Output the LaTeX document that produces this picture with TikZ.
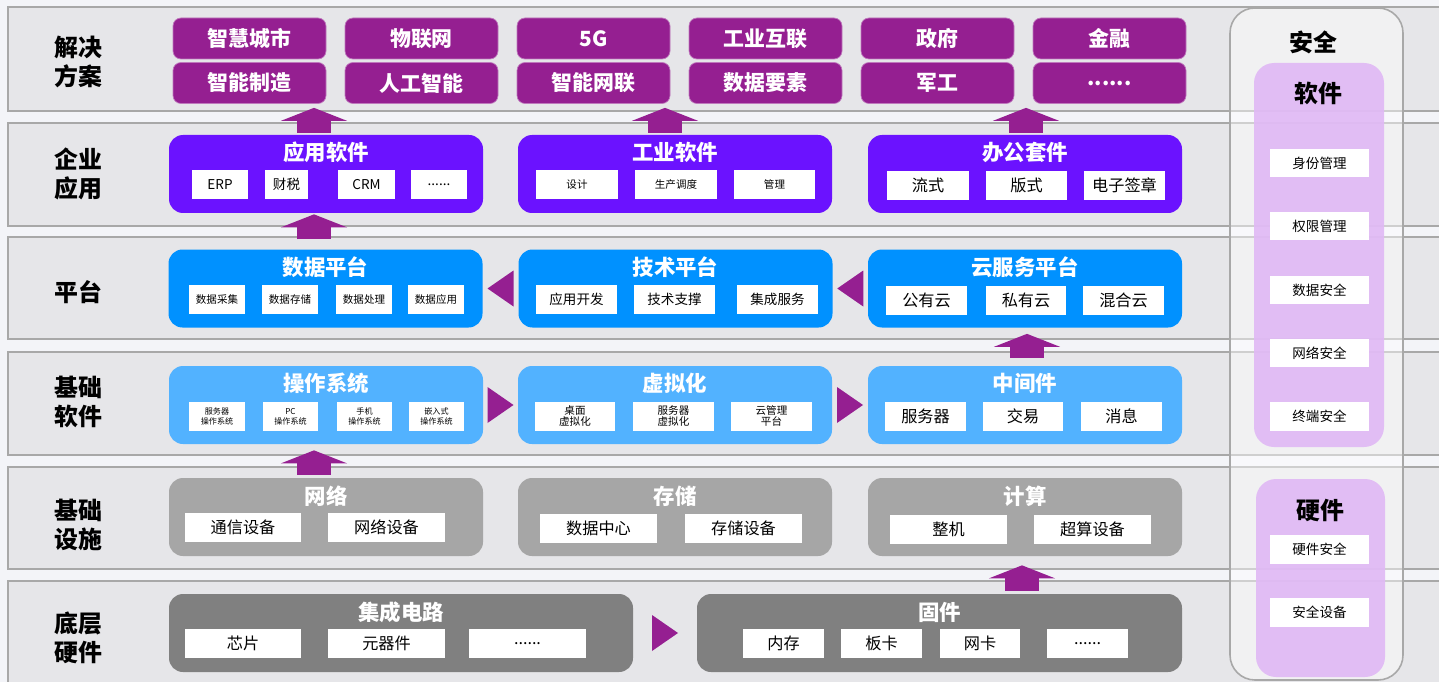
\documentclass[tikz,border=0pt]{standalone}
\usepackage{fontspec}
\setmainfont{Noto Sans CJK SC}
\usetikzlibrary{arrows.meta}
\usetikzlibrary{calc}

\definecolor{bgcol}{HTML}{F3F4F8}
\definecolor{bandfill}{HTML}{E6E6E9}
\definecolor{bandline}{HTML}{A8A8A8}
\definecolor{solcol}{HTML}{951F91}
\definecolor{entcol}{HTML}{6B12FF}
\definecolor{platcol}{HTML}{0091FF}
\definecolor{swcol}{HTML}{52B2FF}
\definecolor{infcol}{HTML}{A6A6A6}
\definecolor{botcol}{HTML}{808080}
\definecolor{seccol}{HTML}{E0B8F5}

\begin{document}
\begin{tikzpicture}[x=0.02cm,y=-0.02cm,
	band/.style={fill=bandfill,draw=bandline,line width=0.9pt},
	sz/.style 2 args={minimum width=#1*0.02cm,minimum height=#2*0.02cm},
	iw/.style={minimum width=#1*0.02cm},
	lab/.style={font=\fontsize{13.6pt}{16.4pt}\selectfont\bfseries,align=center},
	sol/.style={fill=solcol,draw=solcol!60!white,line width=0.4pt,rounded corners=0.16cm,inner sep=0pt,text=white,font=\fontsize{11.9pt}{14pt}\selectfont\bfseries,sz={153}{41}},
	big/.style={rounded corners=0.28cm,inner sep=0pt,sz={314}{78}},
	ttl/.style={text=white,font=\fontsize{12.2pt}{14pt}\selectfont\bfseries},
	item/.style={fill=white,inner sep=0pt,align=center,minimum height=0.58cm},
	fa/.style={font=\fontsize{4.6pt}{5.7pt}\selectfont},
	fb/.style={font=\fontsize{6pt}{6.6pt}\selectfont},
	fc/.style={font=\fontsize{7.7pt}{9pt}\selectfont},
	fd/.style={font=\fontsize{9.2pt}{11pt}\selectfont},
	up/.style={draw=solcol,line width=19.3pt,-{Triangle[width=37.4pt,length=7.4pt]}},
	tri/.style={fill=solcol}
]

\useasboundingbox (0,0) rectangle (1439,682);
\fill[bgcol] (0,0) rectangle (1439,682);

%%%%%%%%%%%%%%%%%%%%%%%%%%%%%%%%%%%%%%%%%%

\draw[band] (8,7) rectangle (1460,111);
\draw[band] (8,123) rectangle (1460,226);
\draw[band] (8,237) rectangle (1460,339);
\draw[band] (8,352) rectangle (1460,455);
\draw[band] (8,467) rectangle (1460,569);
\draw[band] (8,581) rectangle (1460,700);

\node[lab] (l1) at (78,62) {解决\\方案};
\node[lab] (l2) at (78,174) {企业\\应用};
\node[lab] (l3) at (78,292) {平台};
\node[lab] (l4) at (78,402) {基础\\软件};
\node[lab] (l5) at (78,525) {基础\\设施};
\node[lab] (l6) at (78,638) {底层\\硬件};

%%%%%%%%%%%%%%%%%%%%%%%%%%%%%%%%%%%%%%%%%%

\draw[fill=white,fill opacity=0.45,draw=bandline,line width=0.9pt,rounded corners=0.5cm] (1230,8) rectangle (1403,680);
\node[lab] (sec) at (1313,42) {安全};

\fill[seccol,fill opacity=0.9,rounded corners=0.4cm] (1254,63) rectangle (1384,447);
\node[lab] (secsw) at (1318,93) {软件};
\node[item,fc,iw=99] (q1) at (1319.5,163) {身份管理};
\node[item,fc,iw=99] (q2) at (1319.5,226) {权限管理};
\node[item,fc,iw=99] (q3) at (1319.5,290) {数据安全};
\node[item,fc,iw=99] (q4) at (1319.5,353) {网络安全};
\node[item,fc,iw=99] (q5) at (1319.5,416) {终端安全};

\fill[seccol,fill opacity=0.9,rounded corners=0.4cm] (1256,479) rectangle (1385,677);
\node[lab] (sechw) at (1320,510) {硬件};
\node[item,fc,iw=99] (q6) at (1319.5,549) {硬件安全};
\node[item,fc,iw=99] (q7) at (1319.5,612) {安全设备};

%%%%%%%%%%%%%%%%%%%%%%%%%%%%%%%%%%%%%%%%%%

\node[sol] (s11) at (249.5,38.5) {智慧城市};
\node[sol] (s12) at (421.5,38.5) {物联网};
\node[sol] (s13) at (593.5,38.5) {5G};
\node[sol] (s14) at (765.5,38.5) {工业互联};
\node[sol] (s15) at (937.5,38.5) {政府};
\node[sol] (s16) at (1109.5,38.5) {金融};
\node[sol] (s21) at (249.5,83) {智能制造};
\node[sol] (s22) at (421.5,83) {人工智能};
\node[sol] (s23) at (593.5,83) {智能网联};
\node[sol] (s24) at (765.5,83) {数据要素};
\node[sol] (s25) at (937.5,83) {军工};
\node[sol] (s26) at (1109.5,83) {......};

%%%%%%%%%%%%%%%%%%%%%%%%%%%%%%%%%%%%%%%%%%

\node[big,fill=entcol] (e1) at (326,174) {};
\node[ttl] (e1t) at ($(e1.north)+(0,18)$) {应用软件};
\node[item,fc,iw=56] (e1a) at (220,184.5) {ERP};
\node[item,fc,iw=43] (e1b) at (286.5,184.5) {财税};
\node[item,fc,iw=57] (e1c) at (366.5,184.5) {CRM};
\node[item,fc,iw=56] (e1d) at (439,184.5) {......};

\node[big,fill=entcol] (e2) at (675,174) {};
\node[ttl] (e2t) at ($(e2.north)+(0,18)$) {工业软件};
\node[item,fb,iw=82] (e2a) at (577,184.5) {设计};
\node[item,fb,iw=82] (e2b) at (676,184.5) {生产调度};
\node[item,fb,iw=81] (e2c) at (774.5,184.5) {管理};

\node[big,fill=entcol] (e3) at (1025,174) {};
\node[ttl] (e3t) at ($(e3.north)+(0,18)$) {办公套件};
\node[item,fd,iw=82] (e3a) at (928,185.5) {流式};
\node[item,fd,iw=81] (e3b) at (1026.5,185.5) {版式};
\node[item,fd,iw=81] (e3c) at (1124.5,185.5) {电子签章};

%%%%%%%%%%%%%%%%%%%%%%%%%%%%%%%%%%%%%%%%%%

\node[big,fill=platcol] (p1) at (325.5,288.5) {};
\node[ttl] (p1t) at ($(p1.north)+(0,18)$) {数据平台};
\node[item,fb,iw=56] (p1a) at (217,299.5) {数据采集};
\node[item,fb,iw=56] (p1b) at (290,299.5) {数据存储};
\node[item,fb,iw=56] (p1c) at (364,299.5) {数据处理};
\node[item,fb,iw=56] (p1d) at (436,299.5) {数据应用};

\node[big,fill=platcol] (p2) at (675.5,288.5) {};
\node[ttl] (p2t) at ($(p2.north)+(0,18)$) {技术平台};
\node[item,fc,iw=81] (p2a) at (576.5,299.5) {应用开发};
\node[item,fc,iw=81] (p2b) at (674.5,299.5) {技术支撑};
\node[item,fc,iw=81] (p2c) at (777.5,299.5) {集成服务};

\node[big,fill=platcol] (p3) at (1025,288.5) {};
\node[ttl] (p3t) at ($(p3.north)+(0,18)$) {云服务平台};
\node[item,fd,iw=81] (p3a) at (926.5,300.5) {公有云};
\node[item,fd,iw=80] (p3b) at (1026,300.5) {私有云};
\node[item,fd,iw=81] (p3c) at (1123.5,300.5) {混合云};

%%%%%%%%%%%%%%%%%%%%%%%%%%%%%%%%%%%%%%%%%%

\node[big,fill=swcol] (w1) at (326,405) {};
\node[ttl] (w1t) at ($(w1.north)+(0,18)$) {操作系统};
\node[item,fa,iw=56] (w1a) at (217,416.5) {服务器\\操作系统};
\node[item,fa,iw=55] (w1b) at (290.5,416.5) {PC\\操作系统};
\node[item,fa,iw=55] (w1c) at (364.5,416.5) {手机\\操作系统};
\node[item,fa,iw=55] (w1d) at (436.5,416.5) {嵌入式\\操作系统};

\node[big,fill=swcol] (w2) at (675,405) {};
\node[ttl] (w2t) at ($(w2.north)+(0,18)$) {虚拟化};
\node[item,fb,iw=80] (w2a) at (575,416) {桌面\\虚拟化};
\node[item,fb,iw=81] (w2b) at (673.5,416) {服务器\\虚拟化};
\node[item,fb,iw=81] (w2c) at (771.5,416) {云管理\\平台};

\node[big,fill=swcol] (w3) at (1025,405) {};
\node[ttl] (w3t) at ($(w3.north)+(0,18)$) {中间件};
\node[item,fd,iw=81] (w3a) at (925.5,416.5) {服务器};
\node[item,fd,iw=80] (w3b) at (1023,416.5) {交易};
\node[item,fd,iw=81] (w3c) at (1121.5,416.5) {消息};

%%%%%%%%%%%%%%%%%%%%%%%%%%%%%%%%%%%%%%%%%%

\node[big,fill=infcol] (i1) at (326,517) {};
\node[ttl] (i1t) at ($(i1.north)+(0,19)$) {网络};
\node[item,fd,iw=116] (i1a) at (243,527.5) {通信设备};
\node[item,fd,iw=117] (i1b) at (386.5,527.5) {网络设备};

\node[big,fill=infcol] (i2) at (675,517) {};
\node[ttl] (i2t) at ($(i2.north)+(0,19)$) {存储};
\node[item,fd,iw=117] (i2a) at (598.5,528.5) {数据中心};
\node[item,fd,iw=117] (i2b) at (743.5,528.5) {存储设备};

\node[big,fill=infcol] (i3) at (1025,517) {};
\node[ttl] (i3t) at ($(i3.north)+(0,19)$) {计算};
\node[item,fd,iw=117] (i3a) at (948.5,529.5) {整机};
\node[item,fd,iw=117] (i3b) at (1092.5,529.5) {超算设备};

%%%%%%%%%%%%%%%%%%%%%%%%%%%%%%%%%%%%%%%%%%

\node[big,fill=botcol,sz={464}{78}] (b1) at (401,633) {};
\node[ttl] (b1t) at ($(b1.north)+(0,19)$) {集成电路};
\node[item,fd,iw=116] (b1a) at (243,643.5) {芯片};
\node[item,fd,iw=117] (b1b) at (386.5,643.5) {元器件};
\node[item,fd,iw=117] (b1c) at (527.5,643.5) {......};

\node[big,fill=botcol,sz={485}{78}] (b2) at (939.5,633) {};
\node[ttl] (b2t) at ($(b2.north)+(0,19)$) {固件};
\node[item,fd,iw=81] (b2a) at (783.5,643.5) {内存};
\node[item,fd,iw=81] (b2b) at (881.5,643.5) {板卡};
\node[item,fd,iw=80] (b2c) at (980,643.5) {网卡};
\node[item,fd,iw=81] (b2d) at (1087.5,643.5) {......};

%%%%%%%%%%%%%%%%%%%%%%%%%%%%%%%%%%%%%%%%%%

\draw[up,shorten <=0.04cm,shorten >=0.08cm] (314,0 |- e1.north) to (314,0 |- s21.south);
\draw[up,shorten <=0.04cm,shorten >=0.08cm] (665,0 |- e2.north) to (665,0 |- s23.south);
\draw[up,shorten <=0.04cm,shorten >=0.08cm] (1026,0 |- e3.north) to (1026,0 |- s25.south);
\draw[up,shorten <=0.2cm,shorten >=0.02cm] (314,0 |- p1.north) to (314,0 |- e1.south);
\draw[up,shorten <=0.16cm,shorten >=0.12cm] (1027,0 |- w3.north) to (1027,0 |- p3.south);
\draw[up,shorten <=0.06cm,shorten >=0.12cm] (314,0 |- i1.north) to (314,0 |- w1.south);
\draw[up,shorten <=0.06cm,shorten >=0.18cm] (1022,0 |- b2.north) to (1022,0 |- i3.south);

\coordinate (m1) at ($(p1.east)!.5!(p2.west)$);
\coordinate (m2) at ($(p2.east)!.5!(p3.west)$);
\coordinate (m3) at ($(w1.east)!.5!(w2.west)$);
\coordinate (m4) at ($(w2.east)!.5!(w3.west)$);
\coordinate (m5) at ($(b1.east)!.5!(b2.west)$);

\fill[tri] (m1) +(-13,0) -- +(13,-18) -- +(13,18) -- cycle;
\fill[tri] (m2) +(-13,0) -- +(13,-18) -- +(13,18) -- cycle;
\fill[tri] (m3) +(13,0) -- +(-13,-18) -- +(-13,18) -- cycle;
\fill[tri] (m4) +(13,0) -- +(-13,-18) -- +(-13,18) -- cycle;
\fill[tri] (m5) +(13,0) -- +(-13,-18) -- +(-13,18) -- cycle;

\end{tikzpicture}
\end{document}
